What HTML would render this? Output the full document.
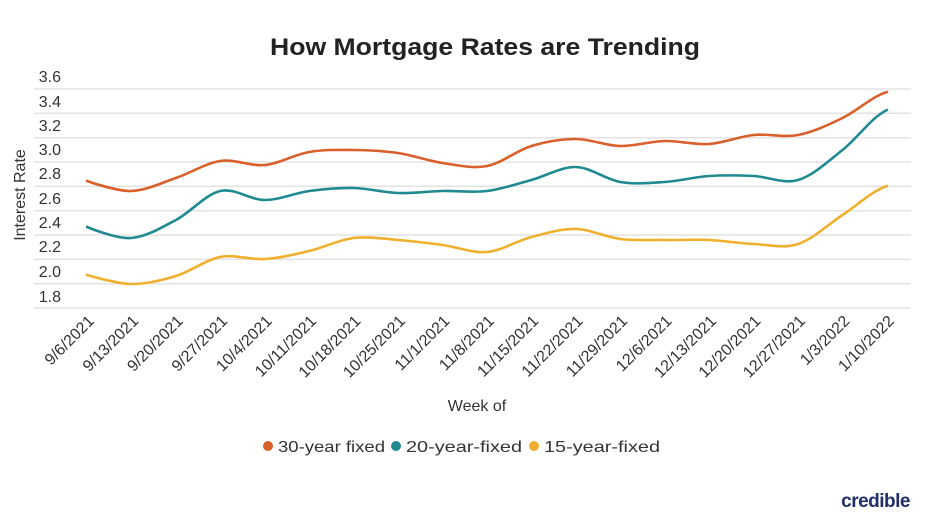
<!DOCTYPE html>
<html><head><meta charset="utf-8"><style>
html,body{margin:0;padding:0;background:#fff;}
svg{display:block;font-family:"Liberation Sans",sans-serif;}
</style></head><body>
<svg width="932" height="524" viewBox="0 0 932 524" xmlns="http://www.w3.org/2000/svg">
<text x="485" y="55" text-anchor="middle" font-size="24" font-weight="bold" fill="#222" textLength="430" lengthAdjust="spacingAndGlyphs">How Mortgage Rates are Trending</text>
<g stroke="#e3e3e3" stroke-width="1.5">
<line x1="34" x2="911" y1="89" y2="89"/><line x1="34" x2="911" y1="113.3" y2="113.3"/><line x1="34" x2="911" y1="137.7" y2="137.7"/><line x1="34" x2="911" y1="162" y2="162"/><line x1="34" x2="911" y1="186.3" y2="186.3"/><line x1="34" x2="911" y1="210.7" y2="210.7"/><line x1="34" x2="911" y1="235" y2="235"/><line x1="34" x2="911" y1="259.3" y2="259.3"/><line x1="34" x2="911" y1="283.7" y2="283.7"/><line x1="34" x2="911" y1="308" y2="308"/>
</g>
<g font-size="16" fill="#333" text-anchor="end">
<text x="61" y="82">3.6</text><text x="61" y="107">3.4</text><text x="61" y="131">3.2</text><text x="61" y="155">3.0</text><text x="61" y="179">2.8</text><text x="61" y="204">2.6</text><text x="61" y="228">2.4</text><text x="61" y="252">2.2</text><text x="61" y="277">2.0</text><text x="61" y="302">1.8</text>
</g>
<text transform="translate(25,195) rotate(-90)" text-anchor="middle" font-size="16" fill="#333">Interest Rate</text>
<g fill="none" stroke-width="2.6" stroke-linejoin="round" stroke-linecap="round">
<path stroke="#d95f2b" d="M87,181 S116.6,191.5 131.4,191 S161.1,183 175.9,178 S205.5,163.2 220.3,161 S250,166.5 264.8,165 S294.4,154.5 309.2,152 S338.8,149.8 353.6,150 S383.3,150.8 398.1,153 S427.7,160.8 442.5,163 S472.2,168.8 487,166 S516.6,150.5 531.4,146 S561,139 575.8,139 S605.5,145.7 620.3,146 S649.9,141.3 664.7,141 S694.4,145 709.2,144 S738.8,136.5 753.6,135 S783.2,137.8 798,135 S827.7,125.2 842.5,118 S872.2,96.3 887,92"/>
<path stroke="#1f8a91" d="M87,227 S116.6,239.2 131.4,238 S161.1,227.8 175.9,220 S205.5,194.3 220.3,191 S250,200 264.8,200 S294.4,193 309.2,191 S338.8,187.7 353.6,188 S383.3,192.5 398.1,193 S427.7,191.3 442.5,191 S472.2,192.8 487,191 S516.6,184 531.4,180 S561,166.7 575.8,167 S605.5,179.5 620.3,182 S649.9,183 664.7,182 S694.4,177 709.2,176 S738.8,175.3 753.6,176 S783.2,184.3 798,180 S827.7,161.7 842.5,150 S872.2,116.7 887,110"/>
<path stroke="#f0b02d" d="M87,275 S116.6,283.8 131.4,284 S161.1,280.5 175.9,276 S205.5,259.8 220.3,257 S250,260 264.8,259 S294.4,254.5 309.2,251 S338.8,239.8 353.6,238 S383.3,238.8 398.1,240 S427.7,243 442.5,245 S472.2,253.3 487,252 S516.6,240.8 531.4,237 S561,228.7 575.8,229 S605.5,237.2 620.3,239 S649.9,239.8 664.7,240 S694.4,239.3 709.2,240 S738.8,243.3 753.6,244 S783.2,248.8 798,244 S827.7,224.7 842.5,215 S872.2,190.8 887,186"/>
</g>
<g font-size="16" fill="#333" text-anchor="end">
<text transform="translate(95,322) rotate(-45)">9/6/2021</text>
<text transform="translate(139.4,322) rotate(-45)">9/13/2021</text>
<text transform="translate(183.9,322) rotate(-45)">9/20/2021</text>
<text transform="translate(228.3,322) rotate(-45)">9/27/2021</text>
<text transform="translate(272.8,322) rotate(-45)">10/4/2021</text>
<text transform="translate(317.2,322) rotate(-45)">10/11/2021</text>
<text transform="translate(361.6,322) rotate(-45)">10/18/2021</text>
<text transform="translate(406.1,322) rotate(-45)">10/25/2021</text>
<text transform="translate(450.5,322) rotate(-45)">11/1/2021</text>
<text transform="translate(495,322) rotate(-45)">11/8/2021</text>
<text transform="translate(539.4,322) rotate(-45)">11/15/2021</text>
<text transform="translate(583.8,322) rotate(-45)">11/22/2021</text>
<text transform="translate(628.3,322) rotate(-45)">11/29/2021</text>
<text transform="translate(672.7,322) rotate(-45)">12/6/2021</text>
<text transform="translate(717.2,322) rotate(-45)">12/13/2021</text>
<text transform="translate(761.6,322) rotate(-45)">12/20/2021</text>
<text transform="translate(806,322) rotate(-45)">12/27/2021</text>
<text transform="translate(850.5,322) rotate(-45)">1/3/2022</text>
<text transform="translate(895,322) rotate(-45)">1/10/2022</text>
</g>
<text x="477" y="411" text-anchor="middle" font-size="16" fill="#333">Week of</text>
<g font-size="16" fill="#333">
<circle cx="268" cy="446" r="5" fill="#d95f2b"/><text x="278" y="452" textLength="107" lengthAdjust="spacingAndGlyphs">30-year fixed</text>
<circle cx="396" cy="446" r="5" fill="#1f8a91"/><text x="406" y="452" textLength="116" lengthAdjust="spacingAndGlyphs">20-year-fixed</text>
<circle cx="534" cy="446" r="5" fill="#f0b02d"/><text x="544" y="452" textLength="116" lengthAdjust="spacingAndGlyphs">15-year-fixed</text>
</g>
<text x="910" y="507" text-anchor="end" font-size="19" font-weight="bold" fill="#1e2f6b" letter-spacing="-0.5">credible</text>
</svg>
</body></html>
